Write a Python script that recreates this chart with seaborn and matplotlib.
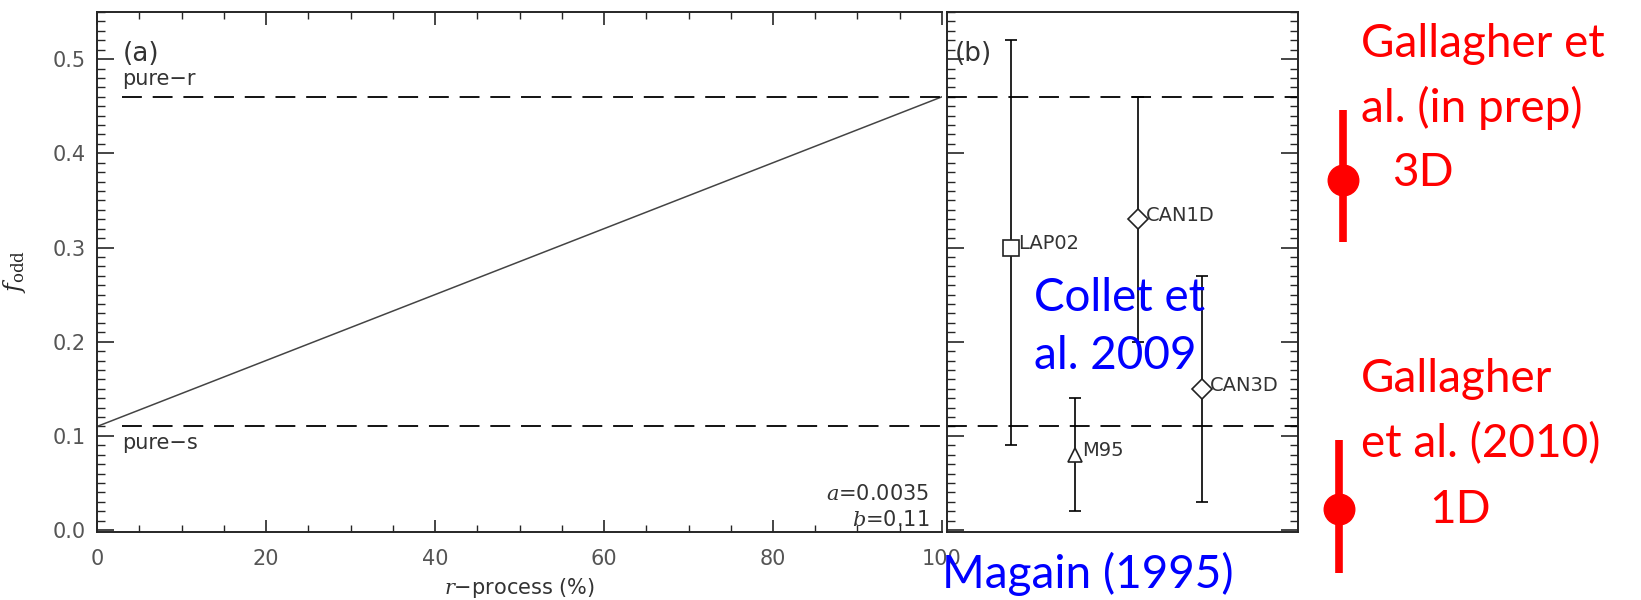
import matplotlib
matplotlib.use('Agg')
import matplotlib.pyplot as plt
import seaborn as sns
import pandas as pd
from matplotlib.ticker import MultipleLocator

# panel (a): linear relation f_odd = a*r + b
r_process = [0, 100]
f_odd_line = [0.11, 0.46]
pure_r = 0.46
pure_s = 0.11

# panel (b): measurements
labels = ['LAP02', 'M95', 'CAN1D', 'CAN3D']
xpos = [1, 2, 3, 4]
f_odd = [0.30, 0.08, 0.33, 0.15]
err_lo = [0.21, 0.06, 0.13, 0.12]
err_hi = [0.22, 0.06, 0.13, 0.12]
marks = ['s', '^', 'D', 'D']

# red overlay (Gallagher et al.)
gal_x = [6.2, 6.15]
gal_f = [0.372, 0.022]
gal_lo = [0.066, 0.067]
gal_hi = [0.074, 0.074]

sns.set_style('ticks')
plt.rcParams['font.family'] = ['DejaVu Sans']
plt.rcParams['mathtext.fontset'] = 'dejavuserif'

W, H = 1641, 600
fig = plt.figure(figsize=(W / 100, H / 100), dpi=100)
ax_a = fig.add_axes([97 / W, 1 - 532 / H, (942 - 97) / W, (532 - 12) / H])
ax_b = fig.add_axes([947 / W, 1 - 532 / H, (1298 - 947) / W, (532 - 12) / H])

gray = '#555555'
dash = (0, (11, 6))

# ---- panel (a)
df_a = pd.DataFrame({'r': r_process, 'f': f_odd_line})
sns.lineplot(data=df_a, x='r', y='f', ax=ax_a, color='#444444', lw=1.1)
ax_a.axhline(pure_r, xmin=0.03, color='black', lw=1.3, ls=dash)
ax_a.axhline(pure_s, xmin=0.03, color='black', lw=1.3, ls=dash)
ax_a.set_xlim(0, 100)
ax_a.set_ylim(-0.002, 0.55)
ax_a.xaxis.set_major_locator(MultipleLocator(20))
ax_a.xaxis.set_minor_locator(MultipleLocator(5))
ax_a.yaxis.set_major_locator(MultipleLocator(0.1))
ax_a.yaxis.set_minor_locator(MultipleLocator(0.01))
ax_a.yaxis.set_major_formatter(matplotlib.ticker.FormatStrFormatter('%.1f'))
ax_a.tick_params(axis='y', which='major', direction='in', length=12, width=1.2,
                 labelsize=15, labelcolor=gray, pad=8)
ax_a.tick_params(axis='y', which='minor', direction='in', length=6, width=1.0)
ax_a.tick_params(axis='x', which='major', direction='in', length=9, width=1.2,
                 top=True, labelsize=15, labelcolor=gray, pad=12)
ax_a.tick_params(axis='x', which='minor', direction='in', length=5, width=1.0, top=True)
ax_a.spines['right'].set_visible(False)
for s in ['left', 'top', 'bottom']:
    ax_a.spines[s].set_linewidth(1.4)
ax_a.set_xlabel(r'$r$$-$process (%)', fontsize=15, color='#333333', labelpad=5)
ax_a.set_ylabel(r'$f_{\rm odd}$', fontsize=17, labelpad=18)

ax_a.text(3, 0.505, '(a)', fontsize=19, color='#333333', va='center')
ax_a.text(3, 0.468, 'pure\u2212r', fontsize=15, color='#333333', va='bottom')
ax_a.text(3, 0.103, 'pure\u2212s', fontsize=15, color='#333333', va='top')
ax_a.text(98.5, 0.038, r'$a$=0.0035', fontsize=15, color='#333333', ha='right', va='center')
ax_a.text(98.5, 0.011, r'$b$=0.11', fontsize=15, color='#333333', ha='right', va='center')

# ---- panel (b)
ax_b.axhline(pure_r, color='black', lw=1.3, ls=dash)
ax_b.axhline(pure_s, color='black', lw=1.3, ls=dash)
for x, f, lo, hi, m, lab in zip(xpos, f_odd, err_lo, err_hi, marks, labels):
    ax_b.errorbar([x], [f], yerr=[[lo], [hi]], fmt='none', ecolor='black',
                  elinewidth=1.2, capsize=4, capthick=1.2)
    ax_b.plot([x], [f], marker=m, ms=11 if m == 's' else 10, mfc='white',
              mec='#222222', mew=1.2, ls='none')
    ax_b.text(x + 0.12, f + 0.004, lab, fontsize=14, color='#333333', va='center')
ax_b.set_xlim(0, 5.5)
ax_b.set_ylim(-0.002, 0.55)
ax_b.set_xticks([])
ax_b.yaxis.set_major_locator(MultipleLocator(0.1))
ax_b.yaxis.set_minor_locator(MultipleLocator(0.01))
ax_b.tick_params(axis='y', which='major', direction='in', length=12, width=1.2,
                 right=True, labelleft=False)
ax_b.tick_params(axis='y', which='minor', direction='in', length=6, width=1.0, right=True)
for s in ax_b.spines.values():
    s.set_linewidth(1.4)
ax_b.text(0.12, 0.505, '(b)', fontsize=19, color='#333333', va='center')

# red overlay outside the frame
ax_b.errorbar(gal_x, gal_f, yerr=[gal_lo, gal_hi], fmt='o', color='red', ms=22,
              elinewidth=5.5, capsize=0, clip_on=False)

red_font = ['Lato', 'DejaVu Sans']
def ftext(x, y, s, color, size=33, ha='left'):
    fig.text(x / W, 1 - y / H, s, color=color, fontsize=size, family=red_font,
             ha=ha, va='center')

ftext(1361, 44, 'Gallagher et', 'red')
ftext(1361, 108, 'al. (in prep)', 'red')
ftext(1392, 173, '3D', 'red')
ftext(1361, 379, 'Gallagher', 'red')
ftext(1361, 444, 'et al. (2010)', 'red')
ftext(1429, 510, '1D', 'red')
ftext(1034, 298, 'Collet et', 'blue')
ftext(1034, 356, 'al. 2009', 'blue')
ftext(942, 574, 'Magain (1995)', 'blue')

fig.savefig('out.png', dpi=100)
